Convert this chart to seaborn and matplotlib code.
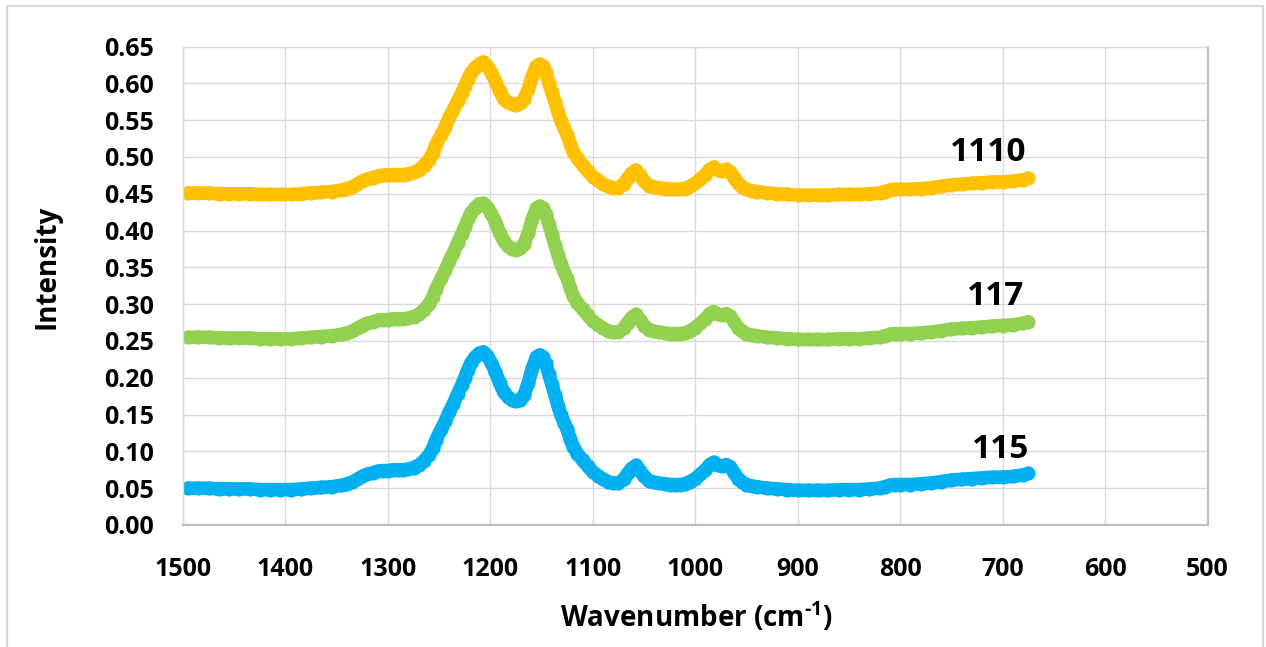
import matplotlib
matplotlib.use("Agg")
import matplotlib.pyplot as plt
from matplotlib.lines import Line2D
import numpy as np
import pandas as pd
import seaborn as sns

# Raman spectra of three samples (wavenumber in cm-1, shared by all series)
wavenumber = [
    1495, 1485, 1475, 1465, 1455, 1445, 1435, 1425, 1415, 1405,
    1395, 1385, 1375, 1365, 1355, 1345, 1340, 1335, 1330, 1325,
    1320, 1315, 1310, 1305, 1300, 1295, 1290, 1285, 1280, 1275,
    1270, 1265, 1260, 1256, 1253, 1248, 1244, 1240, 1236, 1232,
    1228, 1225, 1222, 1219, 1215, 1211, 1207, 1203, 1199, 1195,
    1191, 1187, 1183, 1179, 1175, 1171, 1167, 1163, 1159, 1155,
    1152, 1149, 1146, 1143, 1140, 1137, 1134, 1131, 1128, 1125,
    1122, 1119, 1115, 1110, 1105, 1100, 1095, 1090, 1085, 1080,
    1075, 1070, 1066, 1062, 1058, 1054, 1050, 1045, 1040, 1035,
    1030, 1025, 1020, 1015, 1010, 1005, 1000, 995, 990, 986,
    982, 978, 974, 970, 966, 962, 958, 954, 950, 945,
    940, 930, 920, 910, 900, 890, 880, 870, 860, 850,
    840, 830, 820, 815, 810, 805, 800, 790, 780, 770,
    760, 750, 740, 730, 720, 710, 700, 690, 680, 675,
]

intensity_115 = [
    .050, .050, .050, .049, .049, .049, .049, .048, .048, .048,
    .048, .049, .050, .051, .052, .054, .056, .058, .062, .066,
    .069, .071, .073, .074, .074, .075, .075, .075, .076, .078,
    .081, .087, .095, .105, .116, .130, .141, .154, .165, .178,
    .190, .200, .211, .220, .228, .233, .235, .230, .220, .208,
    .193, .181, .174, .170, .168, .170, .177, .193, .213, .228,
    .231, .228, .220, .205, .191, .177, .162, .149, .139, .130,
    .117, .106, .097, .088, .080, .072, .067, .062, .059, .057,
    .057, .062, .070, .077, .081, .074, .066, .060, .058, .057,
    .056, .055, .055, .055, .056, .059, .063, .069, .075, .082,
    .085, .081, .080, .082, .079, .071, .063, .058, .055, .053,
    .052, .050, .049, .048, .047, .047, .047, .047, .048, .048,
    .048, .049, .050, .052, .054, .055, .055, .055, .056, .057,
    .059, .061, .062, .063, .064, .065, .065, .066, .068, .070,
]

intensity_117 = [
    .255, .255, .255, .254, .254, .254, .254, .253, .253, .253,
    .253, .254, .255, .256, .257, .259, .261, .263, .267, .271,
    .274, .276, .278, .279, .279, .280, .280, .280, .281, .283,
    .286, .292, .300, .310, .321, .335, .346, .359, .370, .383,
    .395, .405, .415, .424, .431, .436, .437, .432, .423, .412,
    .397, .386, .379, .375, .374, .376, .382, .397, .416, .430,
    .433, .430, .423, .409, .395, .381, .367, .354, .344, .335,
    .322, .311, .302, .293, .285, .277, .272, .267, .264, .262,
    .262, .267, .275, .282, .286, .279, .271, .265, .263, .262,
    .261, .260, .260, .260, .261, .264, .268, .274, .280, .287,
    .290, .286, .285, .287, .284, .276, .268, .263, .260, .258,
    .257, .255, .254, .253, .252, .252, .252, .252, .253, .253,
    .253, .254, .255, .257, .259, .260, .260, .260, .261, .262,
    .264, .266, .267, .268, .269, .270, .271, .272, .274, .276,
]

intensity_1110 = [
    .451, .451, .451, .450, .450, .450, .450, .449, .449, .449,
    .449, .450, .451, .452, .453, .455, .457, .459, .463, .467,
    .470, .472, .474, .475, .475, .476, .476, .476, .477, .479,
    .482, .488, .496, .506, .517, .530, .541, .554, .564, .576,
    .587, .596, .606, .614, .621, .626, .629, .624, .614, .603,
    .589, .579, .574, .572, .571, .573, .579, .592, .610, .623,
    .626, .623, .615, .601, .588, .575, .561, .549, .539, .530,
    .518, .507, .498, .489, .481, .473, .468, .463, .460, .458,
    .458, .463, .471, .478, .482, .475, .467, .461, .459, .458,
    .457, .456, .456, .456, .457, .460, .464, .470, .476, .483,
    .486, .482, .481, .483, .480, .472, .464, .459, .456, .454,
    .453, .451, .450, .449, .448, .448, .448, .448, .449, .449,
    .449, .450, .451, .453, .455, .456, .456, .456, .457, .458,
    .460, .462, .463, .464, .465, .466, .466, .467, .469, .471,
]

sample_names = ["1110", "117", "115"]
sample_colors = ["#FFC000", "#92D050", "#00B0F0"]
label_positions = [(714, 0.5055), (707, 0.310), (702, 0.102)]

x_ticks = [1500, 1400, 1300, 1200, 1100, 1000, 900, 800, 700, 600, 500]
y_ticks = [0.00, 0.05, 0.10, 0.15, 0.20, 0.25, 0.30, 0.35, 0.40, 0.45, 0.50, 0.55, 0.60, 0.65]

df = pd.concat(
    [
        pd.DataFrame({"wavenumber": wavenumber, "intensity": vals, "sample": name})
        for name, vals in zip(sample_names, [intensity_1110, intensity_117, intensity_115])
    ],
    ignore_index=True,
)

sns.set_style("white")
plt.rcParams["font.family"] = ["Open Sans", "DejaVu Sans"]
plt.rcParams["font.weight"] = "bold"
plt.rcParams["text.color"] = "black"
plt.rcParams["mathtext.fontset"] = "custom"
plt.rcParams["mathtext.rm"] = "Open Sans:bold"
plt.rcParams["mathtext.bf"] = "Open Sans:bold"
plt.rcParams["mathtext.it"] = "Open Sans:bold"

W, H = 1266, 647
fig = plt.figure(figsize=(W / 100, H / 100), dpi=100)
left, right, top, bottom = 183, 1207.5, 46.5, 525
ax = fig.add_axes([left / W, 1 - bottom / H, (right - left) / W, (bottom - top) / H])

sns.lineplot(
    data=df, x="wavenumber", y="intensity", hue="sample",
    hue_order=sample_names, palette=sample_colors,
    marker="o", markersize=10.2, markeredgewidth=0,
    linewidth=9.8, estimator=None, sort=True, legend=False, ax=ax,
)

ax.set_xlim(1500, 500)
ax.set_ylim(0, 0.65)
ax.set_xticks(x_ticks)
ax.set_yticks(y_ticks)
ax.set_xticklabels([str(t) for t in x_ticks])
ax.set_yticklabels([f"{t:.2f}" for t in y_ticks])
ax.tick_params(axis="both", length=0, labelsize=18, colors="black")
ax.tick_params(axis="y", pad=21)
ax.tick_params(axis="x", pad=23)
for lab in ax.get_xticklabels() + ax.get_yticklabels():
    lab.set_fontweight("bold")

ax.grid(True, color="#d9d9d9", linewidth=1.0)
ax.set_axisbelow(True)
for side in ["left", "top"]:
    ax.spines[side].set_color("#d9d9d9")
    ax.spines[side].set_linewidth(1.0)
for side in ["bottom", "right"]:
    ax.spines[side].set_color("#bfbfbf")
    ax.spines[side].set_linewidth(1.6)

ax.set_xlabel("")
ax.set_ylabel("")
fig.text(696 / W, 1 - 617 / H, r"Wavenumber (cm$^{\text{-1}}$)", ha="center", va="center",
         fontsize=20, fontweight="bold", color="black")
fig.text(47 / W, 1 - 267 / H, "Intensity", ha="center", va="center", rotation=90,
         fontsize=20, fontweight="bold", color="black")

for name, (lx, ly) in zip(sample_names, label_positions):
    ax.text(lx, ly, name, ha="center", va="center", fontsize=24, fontweight="bold", color="black")

# chart frame
frame_kw = dict(color="#d9d9d9", linewidth=1.6, transform=fig.transFigure)
fig.add_artist(Line2D([7 / W, 7 / W], [0, 1 - 6 / H], **frame_kw))
fig.add_artist(Line2D([7 / W, 1263 / W], [1 - 6 / H, 1 - 6 / H], **frame_kw))
fig.add_artist(Line2D([1263 / W, 1263 / W], [0, 1 - 6 / H], **frame_kw))

fig.savefig("out.png", dpi=100)
